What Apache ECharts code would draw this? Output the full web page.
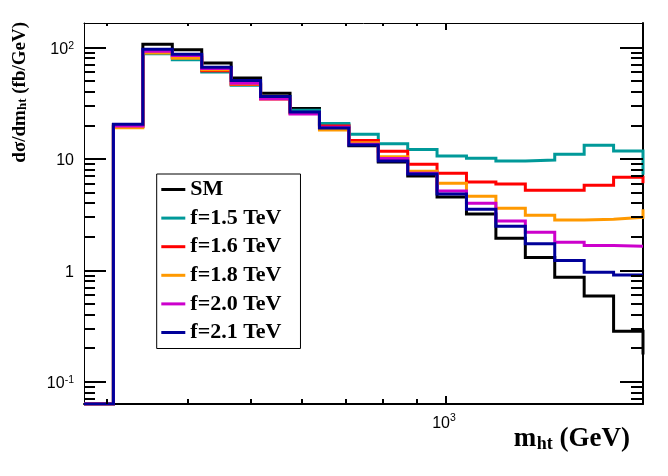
<!DOCTYPE html>
<html>
<head>
<meta charset="utf-8">
<script src="https://cdn.jsdelivr.net/npm/echarts@6/dist/echarts.min.js"></script>
<style>html,body{margin:0;padding:0;background:#fff}#c{width:668px;height:476px}</style>
</head>
<body>
<div id="c"></div>
<script>
// ---- data ----
// log-spaced bin edges in GeV (first bin is empty)
const binEdges = [277, 307.4, 341.2, 378.7, 420.3, 466.5, 517.7, 574.6, 637.7, 707.7,
                  785.4, 871.7, 967.1, 1073.3, 1191.2, 1322.1, 1467.2, 1628.4, 1807.2, 2005.6];
// 19 bin contents + the level each curve drops to at the right edge (next bin)
const seriesNames = ['SM', 'f=1.5 TeV', 'f=1.6 TeV', 'f=1.8 TeV', 'f=2.0 TeV', 'f=2.1 TeV'];
const smVals  = [0, 20.4, 107, 95.9, 72.8, 53.4, 38.9, 28.4, 20.2, 13.2, 9.4, 7.05, 4.57, 3.21, 1.95, 1.31, 0.87, 0.59, 0.285, 0.176];
const f15Vals = [0, 19.6, 88.3, 77.9, 60.4, 45.9, 36.3, 27.4, 20.9, 16.7, 13.7, 12.2, 10.65, 10.15, 9.6, 9.8, 11.05, 13.3, 11.8, 7.25];
const f16Vals = [0, 19.8, 90.8, 81.9, 62.1, 46.6, 34.6, 26.0, 19.8, 14.7, 11.75, 9.0, 7.48, 6.22, 5.96, 5.24, 5.24, 5.82, 6.88, 6.06];
const f18Vals = [0, 19.1, 89.5, 80.2, 63.4, 47.2, 35.3, 25.8, 18.2, 14.0, 10.5, 7.77, 6.06, 4.63, 3.62, 3.13, 2.84, 2.88, 3.0, 3.55];
const f20Vals = [0, 19.8, 92.7, 85.0, 65.0, 47.9, 34.8, 25.4, 19.3, 13.6, 10.1, 7.45, 5.17, 4.02, 2.78, 2.2, 1.79, 1.68, 1.65, 1.65];
const f21Vals = [0, 20.5, 96.7, 87.1, 66.6, 50.6, 36.4, 26.4, 19.0, 13.4, 9.6, 7.35, 4.86, 3.55, 2.5, 1.74, 1.23, 0.963, 0.911, 0.911];
const seriesColors = ['#000000', '#009999', '#ff0000', '#ff9900', '#cc00cc', '#000099'];

// axis ticks and labels
const xMajorTicks = [1000];
const xMinorTicks = [300, 400, 500, 600, 700, 800, 900];
const yMajorTicks = [0.1, 1, 10, 100];
const yMinorTicks = [0.07, 0.08, 0.09, 0.2, 0.3, 0.4, 0.5, 0.6, 0.7, 0.8, 0.9,
                     2, 3, 4, 5, 6, 7, 8, 9, 20, 30, 40, 50, 60, 70, 80, 90];
const yTickLabels = {'-1': ['10', '-1'], '0': ['1', ''], '1': ['10', ''], '2': ['10', '2']};
const xTickLabels = {'3': ['10', '3']};

// axis ranges
const X_MIN = 277, X_MAX = 2005.6;
const Y_MIN = 0.06339, Y_MAX = 166.4;

const chart = echarts.init(document.getElementById('c'), null, {renderer: 'canvas'});
const SERIF = 'Liberation Serif';
const SANS = 'Liberation Sans';

function build(vals) {
  return binEdges.map((e, i) => [e, vals[i] > 0 ? vals[i] : Y_MIN]);
}
const allVals = [smVals, f15Vals, f16Vals, f18Vals, f20Vals, f21Vals];

function fmt(table) {
  return function (v) {
    const k = String(Math.round(Math.log10(v)));
    const t = table[k];
    if (!t) return '';
    return t[1] ? '{n|' + t[0] + '}{s|' + t[1] + '}' : '{n|' + t[0] + '}';
  };
}

function xAxisDef(pos, lineW, labels) {
  return {
    type: 'log', logBase: 10, min: X_MIN, max: X_MAX, position: pos, gridIndex: 0,
    axisLine: {show: true, onZero: false, lineStyle: {color: '#000', width: lineW}},
    axisTick: {show: false},
    axisLabel: labels ? {
      show: true, customValues: xMajorTicks, margin: 9, formatter: fmt(xTickLabels),
      rich: {
        n: {fontFamily: SANS, fontSize: 16, color: '#000', verticalAlign: 'top', padding: [3, 0, 0, 0]},
        s: {fontFamily: SANS, fontSize: 10.5, color: '#000', verticalAlign: 'top', padding: [0, 5, 0, 0]}
      }
    } : {show: false},
    splitLine: {show: false}, minorTick: {show: false}, minorSplitLine: {show: false}
  };
}
function yAxisDef(pos, lineW, labels) {
  return {
    type: 'log', logBase: 10, min: Y_MIN, max: Y_MAX, position: pos, gridIndex: 0,
    axisLine: {show: true, onZero: false, lineStyle: {color: '#000', width: lineW}},
    axisTick: {show: false},
    axisLabel: labels ? {
      show: true, customValues: yMajorTicks, margin: 10, formatter: fmt(yTickLabels),
      rich: {
        n: {fontFamily: SANS, fontSize: 16, color: '#000', verticalAlign: 'top', padding: [4, 0, 0, 0]},
        s: {fontFamily: SANS, fontSize: 10.5, color: '#000', verticalAlign: 'top', padding: [3, 0, 0, 0]}
      }
    } : {show: false},
    splitLine: {show: false}, minorTick: {show: false}, minorSplitLine: {show: false}
  };
}

const histSeries = seriesNames.map((name, k) => ({
  name: name, type: 'line', xAxisIndex: 0, yAxisIndex: 0,
  data: build(allVals[k]), step: 'end',
  showSymbol: false, symbol: 'none', clip: true,
  color: seriesColors[k],
  lineStyle: {color: seriesColors[k], width: 3, join: 'miter', cap: 'butt'},
  emphasis: {disabled: true}, z: 2 + k * 0.01
}));

// tick marks inside the frame on all four sides, placed through the axes' scales
const TICK_W = 2;
function tickSeries(values, isX, lenA, lenB) {
  return {
    type: 'custom', xAxisIndex: 0, yAxisIndex: 0, clip: false, silent: true, z: 50,
    data: values.map(v => isX ? [v, Y_MIN] : [X_MIN, v]),
    renderItem: function (params, api) {
      const st = {fill: '#000'};
      if (isX) {
        const v = api.value(0);
        const pb = api.coord([v, Y_MIN]);
        const pt = api.coord([v, Y_MAX]);
        const x = Math.round(pb[0]) - TICK_W / 2;
        return {type: 'group', children: [
          {type: 'rect', shape: {x: x, y: Math.round(pb[1] - lenA), width: TICK_W, height: lenA}, style: st},
          {type: 'rect', shape: {x: x, y: Math.round(pt[1]), width: TICK_W, height: lenB}, style: st}
        ]};
      } else {
        const v = api.value(1);
        const pl = api.coord([X_MIN, v]);
        const pr = api.coord([X_MAX, v]);
        const y = Math.round(pl[1]) - TICK_W / 2;
        return {type: 'group', children: [
          {type: 'rect', shape: {x: Math.round(pl[0]), y: y, width: lenA, height: TICK_W}, style: st},
          {type: 'rect', shape: {x: Math.round(pr[0]) - lenB, y: y, width: lenB, height: TICK_W}, style: st}
        ]};
      }
    }
  };
}

const titles = [
  {
    type: 'text', x: 630, y: 426, z: 10,
    style: {
      text: '{m|m}{s|ht}{m| (GeV)}', align: 'right', verticalAlign: 'top', fill: '#000',
      rich: {
        m: {fontFamily: SERIF, fontWeight: 'bold', fontSize: 27, lineHeight: 27, verticalAlign: 'top', padding: [0, 0, 7, 0], fill: '#000'},
        s: {fontFamily: SERIF, fontWeight: 'bold', fontSize: 18, lineHeight: 18, verticalAlign: 'bottom', padding: [0, 0, 0, 0.5], fill: '#000'}
      }
    }
  },
  {
    type: 'text', x: 10.5, y: 22, rotation: Math.PI / 2, z: 10,
    style: {
      text: '{m|dσ/dm}{s|ht}{m| (fb/GeV)}', align: 'right', verticalAlign: 'top', fill: '#000',
      rich: {
        m: {fontFamily: SERIF, fontWeight: 'bold', fontSize: 19, lineHeight: 19, verticalAlign: 'top', padding: [0, 0, 5, 0], fill: '#000'},
        s: {fontFamily: SERIF, fontWeight: 'bold', fontSize: 13, lineHeight: 13, verticalAlign: 'bottom', fill: '#000'}
      }
    }
  }
];

const option = {
  animation: false,
  backgroundColor: '#ffffff',
  grid: {left: 84, right: 25, top: 23, bottom: 72, containLabel: false, outerBoundsMode: 'none'},
  xAxis: [xAxisDef('bottom', 2, true), xAxisDef('top', 1, false)],
  yAxis: [yAxisDef('left', 1, true), yAxisDef('right', 2, false)],
  legend: {
    orient: 'vertical', left: 156.7, top: 174,
    data: seriesNames, icon: 'rect', itemWidth: 24, itemHeight: 3, itemGap: 4.6,
    padding: [3.5, 19, 4, 4.6],
    borderColor: '#000', borderWidth: 1, backgroundColor: '#fff', borderRadius: 0,
    selectedMode: false,
    textStyle: {fontFamily: SERIF, fontWeight: 'bold', fontSize: 22, color: '#000', lineHeight: 24}
  },
  series: histSeries.concat([
    tickSeries(xMajorTicks, true, 8, 7),
    tickSeries(xMinorTicks, true, 5, 3),
    tickSeries(yMajorTicks, false, 22, 23),
    tickSeries(yMinorTicks, false, 11, 12)
  ]),
  graphic: titles
};
chart.setOption(option);
</script>
</body>
</html>
